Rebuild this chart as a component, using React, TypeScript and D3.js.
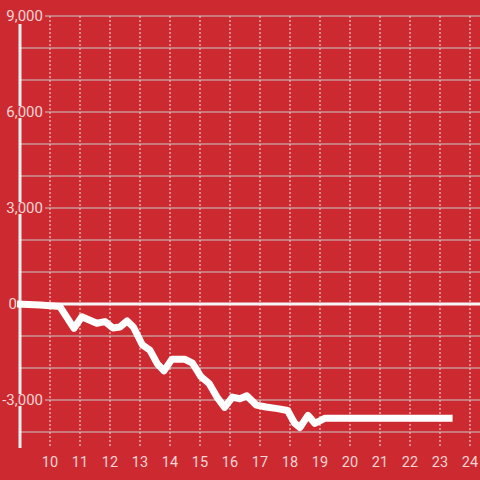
import React from "react";
import * as d3 from "d3";

const xValues = [8.9, 9.67, 10.33, 10.8, 11.06, 11.56, 11.83, 12.1, 12.33, 12.57, 12.78, 13.08, 13.33, 13.58, 13.8, 14.06, 14.5, 14.75, 15.03, 15.3, 15.56, 15.82, 16.08, 16.33, 16.56, 16.88, 17.2, 17.58, 17.92, 18.15, 18.33, 18.6, 18.83, 19.17, 23.42];
const yValues = [0, -30, -80, -760, -400, -600, -550, -750, -720, -530, -720, -1280, -1440, -1870, -2090, -1730, -1730, -1850, -2270, -2480, -2900, -3230, -2910, -2960, -2870, -3160, -3220, -3270, -3330, -3720, -3860, -3480, -3730, -3570, -3570];
const yTicks = [-4000, -3000, -2000, -1000, 0, 1000, 2000, 3000, 4000, 5000, 6000, 7000, 8000, 9000];
const yLabelTicks = [-3000, 3000, 6000, 9000];
const xTicks = [10, 11, 12, 13, 14, 15, 16, 17, 18, 19, 20, 21, 22, 23, 24];

const W = 480;
const H = 480;
const BG = "#cc2a30";
const LABEL = "#f5d4d5";

export default function App() {
  const x = d3.scaleLinear().domain([9, 24]).range([20, 470]);
  const y = d3.scaleLinear().domain([-4000, 9000]).range([432, 16]);
  const data = xValues.map((v, i) => [v, yValues[i]] as [number, number]);
  const line = d3
    .line<[number, number]>()
    .x((d) => x(d[0]))
    .y((d) => y(d[1]));
  const fmt = d3.format(",");
  const font = "Roboto, 'Liberation Sans', sans-serif";
  return (
    <svg
      width={W}
      height={H}
      style={{ position: "absolute", left: 0, top: 0, display: "block" }}
    >
      <rect x={0} y={0} width={W} height={H} fill={BG} />
      {xTicks.map((t) => (
        <line
          key={"vx" + t}
          x1={x(t)}
          x2={x(t)}
          y1={16}
          y2={448}
          stroke="#e6e6e6"
          strokeWidth={1}
          strokeDasharray="2,2"
        />
      ))}
      {yTicks
        .filter((t) => t !== 0)
        .map((t) => (
          <line
            key={"gy" + t}
            x1={20}
            x2={W}
            y1={y(t)}
            y2={y(t)}
            stroke="#c9c9c9"
            strokeWidth={1}
          />
        ))}
      <line x1={20} x2={20} y1={24} y2={448} stroke="#eeeeee" strokeWidth={3} />
      {yLabelTicks.map((t) => (
        <g key={"yl" + t}>
          <rect x={2} y={y(t) - 6} width={43} height={12} fill={BG} />
          <text
            x={43}
            y={y(t)}
            textAnchor="end"
            dominantBaseline="central"
            fill={LABEL}
            fontFamily={font}
            fontSize={15}
          >
            {fmt(t).replace("−", "-")}
          </text>
        </g>
      ))}
      <line x1={17} x2={W} y1={y(0)} y2={y(0)} stroke="#f4f4f4" strokeWidth={3} />
      <text
        x={17}
        y={y(0)}
        textAnchor="end"
        dominantBaseline="central"
        fill={LABEL}
        fontFamily={font}
        fontSize={15}
      >
        0
      </text>
      <path
        d={line(data) || ""}
        fill="none"
        stroke="#ffffff"
        strokeWidth={7}
        strokeLinejoin="round"
        strokeLinecap="butt"
      />
      {xTicks.map((t) => (
        <text
          key={"xl" + t}
          x={x(t)}
          y={467}
          textAnchor="middle"
          fill={LABEL}
          fontFamily={font}
          fontSize={14.5}
        >
          {t}
        </text>
      ))}
    </svg>
  );
}
